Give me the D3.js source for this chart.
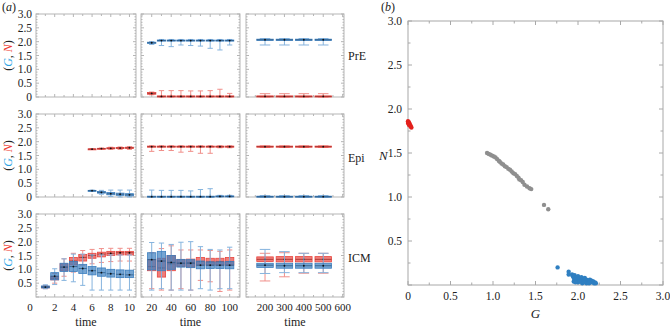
<!DOCTYPE html>
<html>
<head>
<meta charset="utf-8">
<script src="https://cdn.jsdelivr.net/npm/d3@7"></script>
<style>
  body { margin: 0; background: #fff; }
  svg { display: block; }
  text { font-family: "Liberation Serif", "Times New Roman", serif; fill: #222; }
</style>
</head>
<body>
<div id="chart"></div>
<script>
// box rows: [time, lower whisker, q1, median, q3, upper whisker]
const preG = [
  [20, 1.90, 1.94, 1.96, 1.98, 2.00],
  [30, 1.86, 2.02, 2.04, 2.06, 2.08], [40, 1.82, 2.02, 2.04, 2.06, 2.08],
  [50, 1.88, 2.02, 2.04, 2.06, 2.08], [60, 1.86, 2.02, 2.04, 2.06, 2.08],
  [70, 1.84, 2.02, 2.04, 2.06, 2.08], [80, 1.76, 2.02, 2.04, 2.06, 2.08],
  [90, 1.70, 2.02, 2.04, 2.06, 2.08], [100, 1.88, 2.02, 2.04, 2.06, 2.08],
  [200, 1.88, 2.04, 2.07, 2.09, 2.11], [300, 1.88, 2.04, 2.07, 2.09, 2.11],
  [400, 1.88, 2.04, 2.07, 2.09, 2.11], [500, 1.88, 2.04, 2.07, 2.09, 2.11]
];
const preN = [
  [20, 0.08, 0.10, 0.13, 0.16, 0.18],
  [30, 0.00, 0.00, 0.02, 0.04, 0.23], [40, 0.00, 0.00, 0.02, 0.04, 0.23],
  [50, 0.00, 0.00, 0.02, 0.04, 0.23], [60, 0.00, 0.00, 0.02, 0.04, 0.22],
  [70, 0.00, 0.00, 0.02, 0.04, 0.22], [80, 0.00, 0.00, 0.02, 0.04, 0.23],
  [90, 0.00, 0.00, 0.02, 0.04, 0.28], [100, 0.00, 0.00, 0.02, 0.04, 0.13],
  [200, 0.00, 0.00, 0.02, 0.04, 0.12], [300, 0.00, 0.00, 0.02, 0.04, 0.12],
  [400, 0.00, 0.00, 0.02, 0.04, 0.12], [500, 0.00, 0.00, 0.02, 0.04, 0.12]
];
const epiG = [
  [6, 0.22, 0.22, 0.23, 0.24, 0.25], [7, 0.10, 0.14, 0.17, 0.20, 0.24],
  [8, 0.02, 0.08, 0.12, 0.16, 0.25], [9, 0.00, 0.06, 0.10, 0.14, 0.25],
  [10, 0.00, 0.04, 0.08, 0.12, 0.25],
  [20, 0.00, 0.00, 0.01, 0.03, 0.25], [30, 0.00, 0.00, 0.01, 0.03, 0.24],
  [40, 0.00, 0.00, 0.01, 0.03, 0.24], [50, 0.00, 0.00, 0.01, 0.03, 0.24],
  [60, 0.00, 0.00, 0.01, 0.03, 0.22], [70, 0.00, 0.00, 0.01, 0.03, 0.27],
  [80, 0.00, 0.00, 0.01, 0.03, 0.30], [90, 0.00, 0.01, 0.02, 0.04, 0.06],
  [100, 0.00, 0.01, 0.02, 0.04, 0.06],
  [200, 0.00, 0.00, 0.01, 0.03, 0.05], [300, 0.00, 0.00, 0.01, 0.03, 0.05],
  [400, 0.00, 0.00, 0.01, 0.03, 0.05], [500, 0.00, 0.00, 0.01, 0.03, 0.05]
];
const epiN = [
  [6, 1.72, 1.72, 1.73, 1.74, 1.74], [7, 1.73, 1.74, 1.75, 1.76, 1.77],
  [8, 1.72, 1.74, 1.76, 1.78, 1.80], [9, 1.72, 1.75, 1.77, 1.79, 1.81],
  [10, 1.72, 1.75, 1.78, 1.80, 1.82],
  [20, 1.65, 1.80, 1.82, 1.84, 1.85], [30, 1.68, 1.80, 1.82, 1.84, 1.85],
  [40, 1.68, 1.80, 1.82, 1.84, 1.85], [50, 1.62, 1.80, 1.82, 1.84, 1.85],
  [60, 1.65, 1.80, 1.82, 1.84, 1.85], [70, 1.58, 1.80, 1.82, 1.84, 1.85],
  [80, 1.58, 1.80, 1.82, 1.84, 1.85], [90, 1.78, 1.80, 1.82, 1.84, 1.85],
  [100, 1.78, 1.80, 1.82, 1.84, 1.85],
  [200, 1.79, 1.80, 1.82, 1.84, 1.85], [300, 1.79, 1.80, 1.82, 1.84, 1.85],
  [400, 1.79, 1.80, 1.82, 1.84, 1.85], [500, 1.79, 1.80, 1.82, 1.84, 1.85]
];
const icmG = [
  [1, 0.30, 0.33, 0.36, 0.40, 0.44], [2, 0.45, 0.62, 0.75, 0.88, 1.02],
  [3, 0.60, 0.92, 1.08, 1.22, 1.38], [4, 0.55, 0.92, 1.10, 1.28, 1.55],
  [5, 0.42, 0.85, 1.03, 1.18, 1.55], [6, 0.25, 0.80, 0.95, 1.10, 1.52],
  [7, 0.25, 0.75, 0.88, 1.05, 1.52], [8, 0.25, 0.72, 0.84, 1.00, 1.52],
  [9, 0.25, 0.70, 0.82, 0.98, 1.52], [10, 0.25, 0.70, 0.80, 0.97, 1.52],
  [20, 0.25, 0.98, 1.35, 1.60, 1.97], [30, 0.30, 0.95, 1.30, 1.65, 1.95],
  [40, 0.25, 1.00, 1.25, 1.50, 1.90], [50, 0.25, 1.08, 1.22, 1.36, 1.98],
  [60, 0.25, 1.06, 1.22, 1.35, 2.00], [70, 0.30, 1.02, 1.15, 1.30, 1.82],
  [80, 0.25, 1.03, 1.15, 1.27, 1.72], [90, 0.30, 1.03, 1.15, 1.27, 1.70],
  [100, 0.30, 1.02, 1.15, 1.28, 1.80],
  [200, 0.85, 1.07, 1.15, 1.22, 1.72], [300, 0.88, 1.04, 1.13, 1.22, 1.64],
  [400, 0.88, 1.04, 1.13, 1.22, 1.58], [500, 0.88, 1.04, 1.13, 1.22, 1.58]
];
const icmN = [
  [1, 0.30, 0.33, 0.35, 0.38, 0.42], [2, 0.50, 0.62, 0.68, 0.75, 0.85],
  [3, 0.75, 0.95, 1.08, 1.20, 1.38], [4, 0.90, 1.16, 1.30, 1.43, 1.58],
  [5, 1.15, 1.30, 1.43, 1.54, 1.68], [6, 1.20, 1.40, 1.50, 1.58, 1.72],
  [7, 1.25, 1.45, 1.55, 1.62, 1.75], [8, 1.28, 1.50, 1.58, 1.65, 1.76],
  [9, 1.30, 1.52, 1.60, 1.65, 1.76], [10, 1.30, 1.52, 1.60, 1.65, 1.76],
  [20, 0.30, 0.95, 1.10, 1.35, 1.60], [30, 0.25, 0.72, 1.05, 1.40, 1.75],
  [40, 0.25, 0.95, 1.20, 1.50, 1.85], [50, 0.30, 1.10, 1.23, 1.36, 1.70],
  [60, 0.25, 1.08, 1.25, 1.37, 1.70], [70, 0.60, 1.15, 1.28, 1.43, 1.70],
  [80, 0.55, 1.15, 1.27, 1.40, 1.68], [90, 0.20, 1.15, 1.28, 1.40, 1.65],
  [100, 0.25, 1.15, 1.28, 1.43, 1.70],
  [200, 0.58, 1.28, 1.36, 1.45, 1.58], [300, 0.73, 1.27, 1.36, 1.46, 1.60],
  [400, 0.86, 1.27, 1.36, 1.46, 1.58], [500, 0.86, 1.27, 1.36, 1.46, 1.58]
];

// panel (b) points
const grayG = [0.93, 0.95, 0.97, 0.99, 1.01, 1.03, 1.05, 1.07, 1.08, 1.10, 1.12, 1.14, 1.16, 1.18, 1.20,
               1.22, 1.24, 1.26, 1.28, 1.30, 1.31, 1.33, 1.35, 1.37, 1.40, 1.43, 1.45, 1.60, 1.65];
const grayN = [1.50, 1.49, 1.48, 1.47, 1.46, 1.45, 1.43, 1.41, 1.40, 1.38, 1.37, 1.35, 1.34, 1.32, 1.31,
               1.29, 1.27, 1.26, 1.24, 1.22, 1.20, 1.19, 1.17, 1.14, 1.12, 1.10, 1.09, 0.91, 0.86];
const blueG = [1.76, 1.89, 1.89, 1.93, 1.94, 1.95, 1.96, 1.97, 1.98, 1.99, 2.00, 2.01, 2.02, 2.03, 2.04,
               2.05, 2.06, 2.07, 2.08, 2.09, 2.10, 2.11, 2.12, 2.13, 2.14, 2.15, 2.16, 2.17, 2.18, 2.19,
               2.20, 2.21, 1.95, 2.00, 2.05, 2.10, 1.97, 2.02, 2.07, 2.13];
const blueN = [0.20, 0.15, 0.12, 0.12, 0.10, 0.08, 0.11, 0.07, 0.09, 0.06, 0.10, 0.05, 0.08, 0.06, 0.09,
               0.04, 0.07, 0.05, 0.08, 0.04, 0.06, 0.03, 0.05, 0.04, 0.06, 0.03, 0.05, 0.03, 0.04, 0.02,
               0.03, 0.02, 0.04, 0.03, 0.02, 0.02, 0.03, 0.04, 0.03, 0.02];
const redG = [0.00, 0.01, 0.01, 0.02, 0.02, 0.03, 0.03, 0.04, 0.00, 0.01];
const redN = [1.86, 1.85, 1.84, 1.83, 1.82, 1.81, 1.80, 1.79, 1.84, 1.82];

// ticks
const yTicksA = [0, 0.5, 1.0, 1.5, 2.0, 2.5, 3.0];
const xTicks1 = [0, 2, 4, 6, 8, 10];
const xTicks2 = [20, 40, 60, 80, 100];
const xTicks3 = [200, 300, 400, 500, 600];
const ticksB = [0, 0.5, 1.0, 1.5, 2.0, 2.5, 3.0];
const rowNames = ["PrE", "Epi", "ICM"];

const W = 670, H = 328;
const BLUE = "#3c7fbf", RED = "#e8453f";
const FONT = "Liberation Serif, Times New Roman, serif";

const svg = d3.select("#chart").append("svg")
    .attr("width", W)
    .attr("height", H)
    .attr("font-family", FONT);

const fmt = d => d === 0 ? "0" : d3.format(".1f")(d);

// ---------- panel (a) ----------
const cols = [
  { range: [36, 136], domain: [0, 10.7], t: [0, 10], ticks: xTicks1, minor: d3.range(0, 11, 1), step: 1 },
  { range: [141, 240], domain: [9, 110.6], t: [11, 100], ticks: xTicks2, minor: d3.range(10, 111, 10), step: 10 },
  { range: [246, 344], domain: [102, 607], t: [101, 600], ticks: xTicks3, minor: d3.range(150, 601, 50), step: 100 }
];
const rowTops = [14, 114, 214], rowH = 83;
const rowData = [[preG, preN], [epiG, epiN], [icmG, icmN]];
const rowLabelY = [60, 162, 262];

function drawBoxes(g, data, x, y, w, color, whiskColor) {
  const b = g.selectAll(null).data(data).join("g");
  b.append("line")
    .attr("x1", d => x(d[0])).attr("x2", d => x(d[0]))
    .attr("y1", d => y(d[1])).attr("y2", d => y(d[5]))
    .attr("stroke", whiskColor).attr("stroke-width", 1);
  [1, 5].forEach(k => {
    b.append("line")
      .attr("x1", d => x(d[0]) - w * 0.32).attr("x2", d => x(d[0]) + w * 0.32)
      .attr("y1", d => y(d[k])).attr("y2", d => y(d[k]))
      .attr("stroke", whiskColor).attr("stroke-width", 1);
  });
  b.append("rect")
    .attr("x", d => x(d[0]) - w / 2).attr("width", w)
    .attr("y", d => y(d[4])).attr("height", d => Math.max(1, y(d[2]) - y(d[4])))
    .attr("fill", color).attr("fill-opacity", 0.7)
    .attr("stroke", color).attr("stroke-width", 0.8);
  b.append("line")
    .attr("x1", d => x(d[0]) - w / 2).attr("x2", d => x(d[0]) + w / 2)
    .attr("y1", d => y(d[3])).attr("y2", d => y(d[3]))
    .attr("stroke", d3.color(color).darker(1)).attr("stroke-width", 0.8);
  b.append("circle")
    .attr("cx", d => x(d[0])).attr("cy", d => y(d[3])).attr("r", 0.9)
    .attr("fill", "#111");
}

rowTops.forEach((top, ri) => {
  const y = d3.scaleLinear().domain([0, 3]).range([top + rowH, top]);
  cols.forEach((c, ci) => {
    const x = d3.scaleLinear().domain(c.domain).range(c.range);
    const g = svg.append("g");
    const [x0, x1] = c.range;

    g.append("rect")
      .attr("x", x0).attr("y", top).attr("width", x1 - x0).attr("height", rowH)
      .attr("fill", "none").attr("stroke", "#b5b5b5").attr("stroke-width", 1);

    // frame ticks
    const yt = d3.range(0, 3.01, 0.1);
    const majY = d => Math.abs(d * 2 - Math.round(d * 2)) < 1e-6;
    g.selectAll(null).data(yt).join("line")
      .attr("x1", x0).attr("x2", d => x0 + (majY(d) ? 3 : 1.5))
      .attr("y1", d => y(d)).attr("y2", d => y(d))
      .attr("stroke", "#b5b5b5");
    g.selectAll(null).data(yt).join("line")
      .attr("x1", x1).attr("x2", d => x1 - (majY(d) ? 3 : 1.5))
      .attr("y1", d => y(d)).attr("y2", d => y(d))
      .attr("stroke", "#b5b5b5");
    const xt = c.minor.filter(v => x(v) > x0 && x(v) < x1);
    [top, top + rowH].forEach((yy, k) => {
      g.selectAll(null).data(xt).join("line")
        .attr("x1", d => x(d)).attr("x2", d => x(d))
        .attr("y1", yy).attr("y2", d => yy + (k ? -1 : 1) * (c.ticks.includes(d) ? 3 : 2))
        .attr("stroke", "#b5b5b5");
    });

    const inCol = d => d[0] >= c.t[0] && d[0] <= c.t[1];
    const w = 0.85 * (x(c.domain[0] + c.step) - x(c.domain[0]));
    const [gData, nData] = rowData[ri];
    drawBoxes(g, nData.filter(inCol), x, y, w, RED, "#f08f8a");
    drawBoxes(g, gData.filter(inCol), x, y, w, BLUE, "#86b4de");

    // x tick labels on bottom row
    if (ri === 2) {
      g.selectAll(null).data(c.ticks).join("text")
        .attr("x", d => x(d) + (d === 0 ? -6 : 0))
        .attr("y", top + rowH + 14)
        .attr("text-anchor", "middle")
        .style("font-size", "11px")
        .text(d => d);
      g.append("text")
        .attr("x", (x0 + x1) / 2).attr("y", top + rowH + 29)
        .attr("text-anchor", "middle")
        .style("font-size", "12px")
        .text("time");
    }
  });

  // y tick labels
  const labs = ri === 2 ? yTicksA.filter(d => d > 0) : yTicksA;
  svg.append("g").selectAll(null).data(labs).join("text")
    .attr("x", 32).attr("y", d => y(d) + 4)
    .attr("text-anchor", "end")
    .style("font-size", "11.5px")
    .text(fmt);

  // axis label (G, N)
  const lab = svg.append("text")
    .attr("transform", `translate(12,${top + rowH / 2}) rotate(-90)`)
    .attr("text-anchor", "middle")
    .style("font-size", "12px");
  lab.append("tspan").text("(");
  lab.append("tspan").text("G").style("font-style", "italic").style("fill", "#2aa4e4");
  lab.append("tspan").text(", ");
  lab.append("tspan").text("N").style("font-style", "italic").style("fill", "#ee3a30");
  lab.append("tspan").text(")");

  svg.append("text")
    .attr("x", 348).attr("y", rowLabelY[ri])
    .style("font-size", "12px")
    .text(rowNames[ri]);
});

svg.append("text").attr("x", 2).attr("y", 11).style("font-size", "12px")
  .html('(<tspan font-style="italic">a</tspan>)');

// ---------- panel (b) ----------
const bx = d3.scaleLinear().domain([0, 3]).range([408, 663]);
const by = d3.scaleLinear().domain([0, 3]).range([285, 21]);
const gb = svg.append("g");

gb.append("rect")
  .attr("x", bx(0)).attr("y", by(3)).attr("width", bx(3) - bx(0)).attr("height", by(0) - by(3))
  .attr("fill", "none").attr("stroke", "#a8a8a8");

const bt = d3.range(0, 3.01, 0.25);
const isMaj = d => Math.abs(d * 2 - Math.round(d * 2)) < 1e-6;
[[by(0), -1], [by(3), 1]].forEach(([yy, s]) => {
  gb.selectAll(null).data(bt).join("line")
    .attr("x1", d => bx(d)).attr("x2", d => bx(d))
    .attr("y1", yy).attr("y2", d => yy + s * (isMaj(d) ? 4 : 2.5))
    .attr("stroke", "#a8a8a8");
});
[[bx(0), 1], [bx(3), -1]].forEach(([xx, s]) => {
  gb.selectAll(null).data(bt).join("line")
    .attr("y1", d => by(d)).attr("y2", d => by(d))
    .attr("x1", xx).attr("x2", d => xx + s * (isMaj(d) ? 4 : 2.5))
    .attr("stroke", "#a8a8a8");
});

gb.selectAll(null).data(ticksB).join("text")
  .attr("x", d => bx(d)).attr("y", by(0) + 15)
  .attr("text-anchor", "middle")
  .style("font-size", "11.5px")
  .text(fmt);
gb.selectAll(null).data(ticksB.filter(d => d > 0)).join("text")
  .attr("x", bx(0) - 6).attr("y", d => by(d) + 4)
  .attr("text-anchor", "end")
  .style("font-size", "11.5px")
  .text(fmt);

gb.selectAll(null).data(d3.zip(grayG, grayN)).join("circle")
  .attr("cx", d => bx(d[0])).attr("cy", d => by(d[1])).attr("r", 2.2)
  .attr("fill", "#8f8f8f");
gb.selectAll(null).data(d3.zip(blueG, blueN)).join("circle")
  .attr("cx", d => bx(d[0])).attr("cy", d => by(d[1])).attr("r", 2.2)
  .attr("fill", "#2f7fc1");
gb.selectAll(null).data(d3.zip(redG, redN)).join("circle")
  .attr("cx", d => bx(d[0])).attr("cy", d => by(d[1])).attr("r", 2.2)
  .attr("fill", "#e3201c");

gb.append("text").attr("x", bx(1.5)).attr("y", 318)
  .attr("text-anchor", "middle").style("font-size", "13px").style("font-style", "italic")
  .text("G");
gb.append("text").attr("x", 379).attr("y", 160)
  .style("font-size", "13px").style("font-style", "italic")
  .text("N");
svg.append("text").attr("x", 381).attr("y", 11).style("font-size", "12px")
  .html('(<tspan font-style="italic">b</tspan>)');
</script>
</body>
</html>
